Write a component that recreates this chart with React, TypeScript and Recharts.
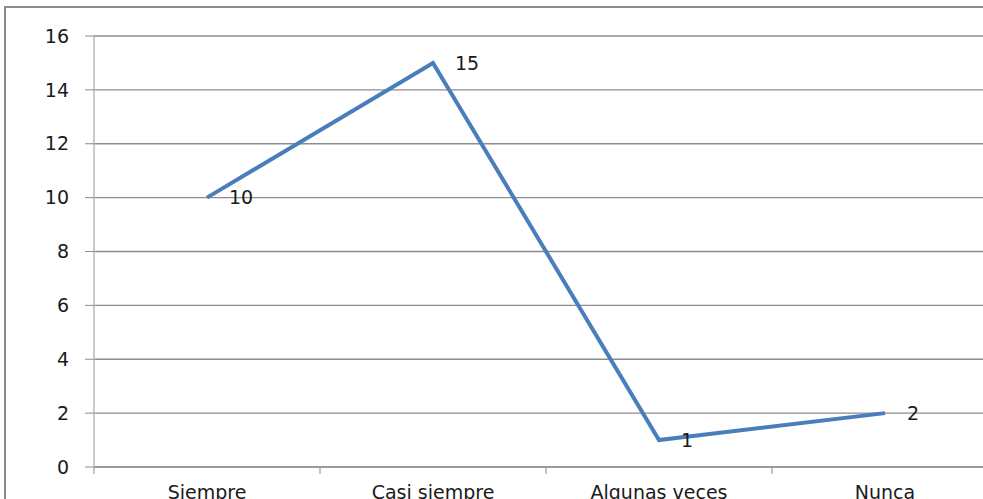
import { LineChart, Line, XAxis, YAxis, CartesianGrid, LabelList } from "recharts";

const categories = ["Siempre", "Casi siempre", "Algunas veces", "Nunca"];
const counts = [10, 15, 1, 2];
const yTicks = [0, 2, 4, 6, 8, 10, 12, 14, 16];

const data = categories.map((name, i) => ({ name, value: counts[i] }));

const FONT = "'DejaVu Sans', sans-serif";

function ValueLabel(props: any) {
  const { x, y, value } = props;
  return (
    <text x={x + 22} y={y} dy="0.36em" fontSize={19} fontFamily={FONT} fill="#1a1a1a">
      {value}
    </text>
  );
}

// category label at the band centre, tick mark at the band's left edge
function CategoryTick(props: any) {
  const { x, y, payload } = props;
  const half = payload.offset || 0;
  return (
    <g>
      <line x1={x - half} x2={x - half} y1={y} y2={y + 7} stroke="#8c8c8c" />
      <text x={x} y={y + 19} dy="0.71em" textAnchor="middle" fontSize={19} fontFamily={FONT} fill="#1a1a1a">
        {payload.value}
      </text>
    </g>
  );
}

export default function App() {
  return (
    <div style={{ position: "absolute", left: 0, top: 0, width: 983, height: 499, overflow: "hidden", background: "#fff" }}>
      <div
        style={{
          position: "absolute",
          left: 4,
          top: 6,
          width: 1100,
          height: 600,
          borderLeft: "2px solid #8c8c8c",
          borderTop: "2px solid #8c8c8c",
        }}
      />
      <div style={{ position: "absolute", left: 0, top: 0 }}>
        <LineChart width={1010} height={499} data={data} margin={{ top: 36, right: 12, left: 0, bottom: 0 }}>
          <CartesianGrid vertical={false} stroke="#8c8c8c" strokeWidth={1.3} />
          <XAxis
            dataKey="name"
            scale="band"
            height={32}
            axisLine={{ stroke: "#8c8c8c" }}
            tickLine={false}
            tickSize={0}
            tickMargin={0}
            interval={0}
            tick={CategoryTick}
          />
          <YAxis
            domain={[0, 16]}
            ticks={yTicks}
            width={94}
            axisLine={{ stroke: "#b8b8b8", strokeWidth: 1.5 }}
            tickLine={{ stroke: "#8c8c8c" }}
            tickSize={9}
            tickMargin={16}
            tick={{ fontSize: 19, fontFamily: FONT, fill: "#1a1a1a" }}
          />
          <Line
            type="linear"
            dataKey="value"
            stroke="#4a7ebb"
            strokeWidth={4}
            dot={false}
            isAnimationActive={false}
          >
            <LabelList dataKey="value" content={ValueLabel} />
          </Line>
        </LineChart>
      </div>
    </div>
  );
}
